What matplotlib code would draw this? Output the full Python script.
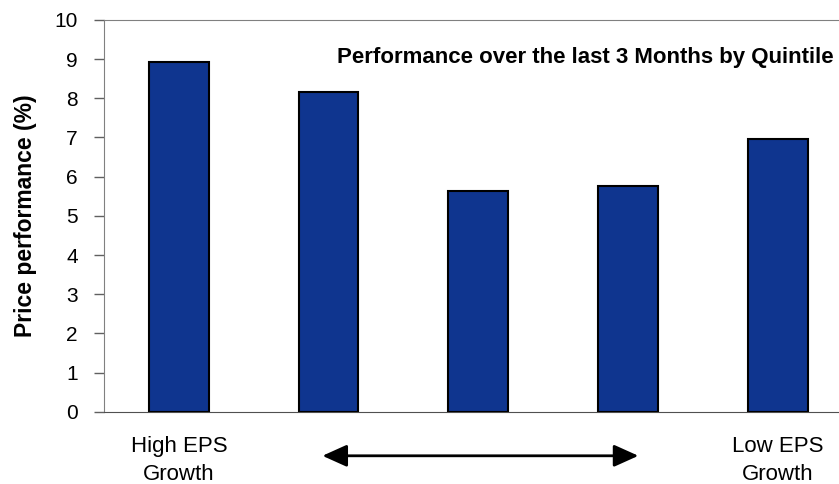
import matplotlib.pyplot as plt
import numpy as np

plt.rcParams["font.family"] = ["Liberation Sans", "DejaVu Sans"]

# Quintile returns, high EPS growth -> low EPS growth
quintiles = ["Q1", "Q2", "Q3", "Q4", "Q5"]
performance = [8.93, 8.17, 5.63, 5.75, 6.95]
end_labels = {0: "High EPS\nGrowth", 4: "Low EPS\nGrowth"}
title = "Performance over the last 3 Months by Quintile"

BAR_COLOR = "#0F358F"
AXIS_GREY = "#808080"

fig = plt.figure(figsize=(8.39, 4.84), dpi=100)
ax = fig.add_axes([0.124, 0.149, 0.892, 0.810])

x = np.arange(len(quintiles))
ax.bar(x, performance, width=0.4, color=BAR_COLOR, edgecolor="black", linewidth=1.5, zorder=3)

ax.set_xlim(-0.5, len(quintiles) - 0.5)
ax.set_ylim(0, 10)
ax.set_yticks(range(0, 11))
ax.tick_params(axis="y", direction="out", length=7, width=1, color="#606060", labelsize=15, pad=12)
ax.set_xticks([])

for side in ("left", "top"):
    ax.spines[side].set_color(AXIS_GREY)
ax.spines["bottom"].set_color("#505050")
ax.spines["right"].set_visible(False)

ax.set_ylabel("Price performance (%)", fontsize=16.5, fontweight="bold")
ax.yaxis.set_label_coords(-0.09, 0.5)

ax.text(0.3115, 0.903, title, transform=ax.transAxes, fontsize=16, fontweight="bold", ha="left", va="center")

for i, lab in end_labels.items():
    ax.text(x[i], -0.62, lab, ha="center", va="top", fontsize=16, linespacing=1.45, clip_on=False)

# double-headed arrow between the end labels
ax.annotate("", xy=(3.07, -1.12), xytext=(0.959, -1.12), xycoords="data",
            arrowprops=dict(arrowstyle="<|-|>,head_length=1.0,head_width=0.45", color="black",
                            lw=2, mutation_scale=15, shrinkA=0, shrinkB=0),
            annotation_clip=False)

fig.savefig("out.png", dpi=100)
